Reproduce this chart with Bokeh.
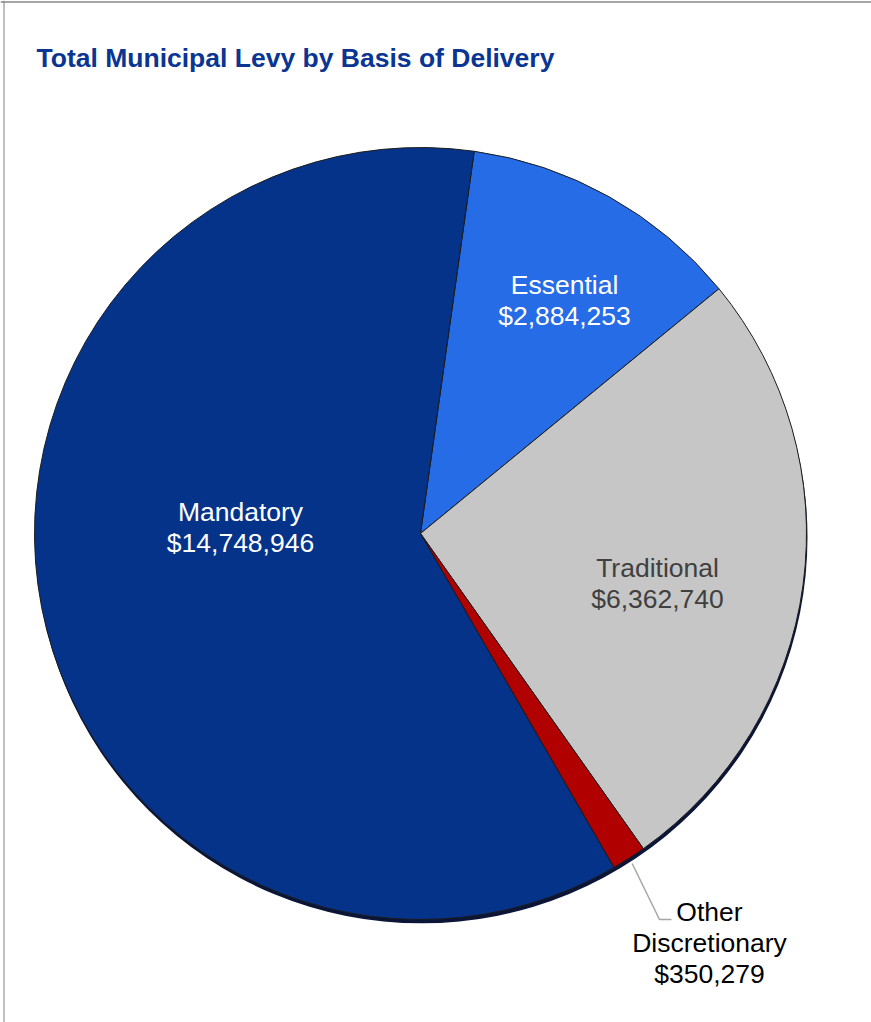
import numpy as np
from bokeh.plotting import figure
from bokeh.models import ColumnDataSource, Range1d, Span
from bokeh.core.properties import value
from bokeh.embed import file_html
from bokeh.resources import INLINE

# ---- data ----
categories = ["Essential", "Traditional", "Other Discretionary", "Mandatory"]
amounts = [2884253, 6362740, 350279, 14748946]
value_labels = ["$2,884,253", "$6,362,740", "$350,279", "$14,748,946"]
title_text = "Total Municipal Levy by Basis of Delivery"

# ---- style ----
colors = ["#266ce6", "#c6c6c6", "#b00000", "#05338a"]
label_colors = ["#ffffff", "#404040", "#000000", "#ffffff"]
W, H = 871, 1022
CX, CY, R = 420, H - 533, 386
START_DEG = 90 - 8  # first slice starts 8 degrees clockwise of 12 o'clock
# label anchors (x, y of first line), line step
label_pos = [(564, H - 284), (657, H - 567), (709, H - 911), (240, H - 511)]
LINE_STEP = 31

p = figure(width=W, height=H, x_range=Range1d(0, W), y_range=Range1d(0, H),
           output_backend="svg", toolbar_location=None, min_border=0,
           x_axis_type=None, y_axis_type=None)
p.grid.visible = False
p.outline_line_color = None
p.background_fill_color = "white"

vals = np.array(amounts, dtype=float)
frac = vals / vals.sum()
cum = np.concatenate([[0], np.cumsum(frac)[:-1]])
start = np.deg2rad(START_DEG - cum * 360)
end = np.deg2rad(START_DEG - (cum + frac) * 360)

src = ColumnDataSource(dict(x=[CX] * len(vals), y=[CY] * len(vals),
                            start=start, end=end, color=colors, cat=categories))

# shadow
p.wedge(x=CX + 1, y=CY - 4, radius=R, start_angle=0, end_angle=2 * np.pi,
        radius_units="screen", fill_color="#0a1538", line_color=None)

p.wedge(x="x", y="y", radius=R, radius_units="screen",
        start_angle="start", end_angle="end", direction="clock",
        fill_color="color", line_color="#1c1c1c", line_width=1, source=src)

# leader line for "Other Discretionary"
mid = (start[2] + end[2]) / 2
lx0 = CX + (R + 6) * np.cos(mid)
ly0 = CY + (R + 6) * np.sin(mid)
ox, oy = label_pos[2]
p.line(x=[lx0, ox - 50, ox - 38], y=[ly0, oy - 8, oy - 8],
       line_color="#a6a6a6", line_width=1.5)

# labels
tx, ty, tt, tc = [], [], [], []
for i, cat in enumerate(categories):
    x0, y0 = label_pos[i]
    lines = cat.split(" ") + [value_labels[i]]
    for j, ln in enumerate(lines):
        tx.append(x0)
        ty.append(y0 - j * LINE_STEP)
        tt.append(ln)
        tc.append(label_colors[i])
p.text(x=tx, y=ty, text=tt, text_color=tc, text_align="center",
       text_baseline="middle", text_font=value("Liberation Sans"),
       text_font_size="26.5px")

# title
p.text(x=[36], y=[H - 57], text=[title_text], text_color="#0a3592",
       text_align="left", text_baseline="middle",
       text_font=value("Liberation Sans"), text_font_style="bold",
       text_font_size="26.5px")

# frame lines (top and left)
p.add_layout(Span(location=H - 1.5, dimension="width", line_color="#a6a6a6", line_width=2))
p.add_layout(Span(location=3.5, dimension="height", line_color="#808080", line_width=1))

open("out.html", "w").write(file_html(p, INLINE))
